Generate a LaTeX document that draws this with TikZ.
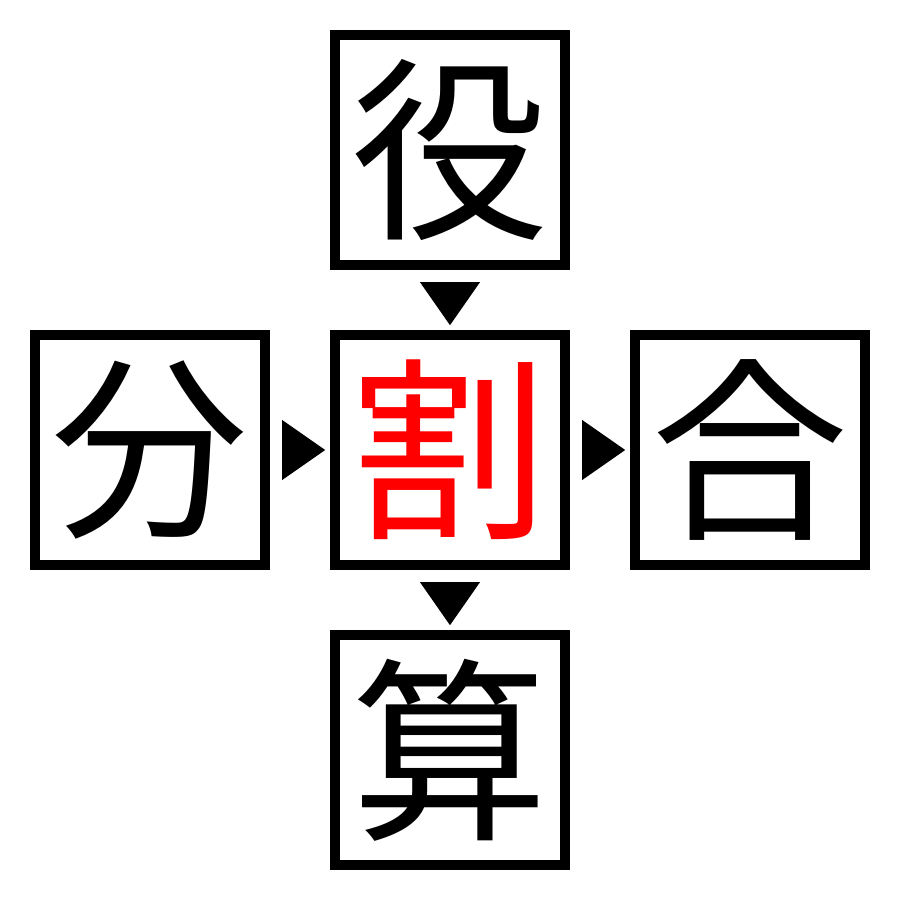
\documentclass[tikz,border=0pt]{standalone}
\usepackage{fontspec}
\newfontfamily\cjk{Noto Sans CJK JP}
\usetikzlibrary{positioning,shapes.geometric}
\tikzset{
grid/.style={
    node distance=6mm,
    line width=1mm
},
kanji/.style={
    rectangle,
    draw,
    minimum size=23mm,
    inner sep=0pt,
    font=\cjk\fontsize{56}{56}\selectfont
},
pointer/.style={
    isosceles triangle,
    isosceles triangle stretches,
    fill=black,
    draw=none,
    inner sep=0pt,
    outer sep=0pt,
    minimum height=4.3mm,
    minimum width=6mm,
    anchor=apex,
    pos=0.92,
    sloped
}}

\begin{document}
\begin{tikzpicture}[grid]
\useasboundingbox (-45mm,-45mm) rectangle (45mm,45mm);
\node[kanji, text=red]  (mid)   at (0,0)    {割};
\node[kanji]    (top)   [above=of mid]    {役};
\node[kanji]    (lft)   [left=of mid]     {分};
\node[kanji]    (rgt)   [right=of mid]    {合};
\node[kanji]    (bot)   [below=of mid]    {算};

\path    (top)    -- node[pointer]    {}    (mid);
\path    (lft)    -- node[pointer]    {}    (mid);
\path    (mid)    -- node[pointer]    {}    (rgt);
\path    (mid)    -- node[pointer]    {}    (bot);
\end{tikzpicture}
\end{document}
